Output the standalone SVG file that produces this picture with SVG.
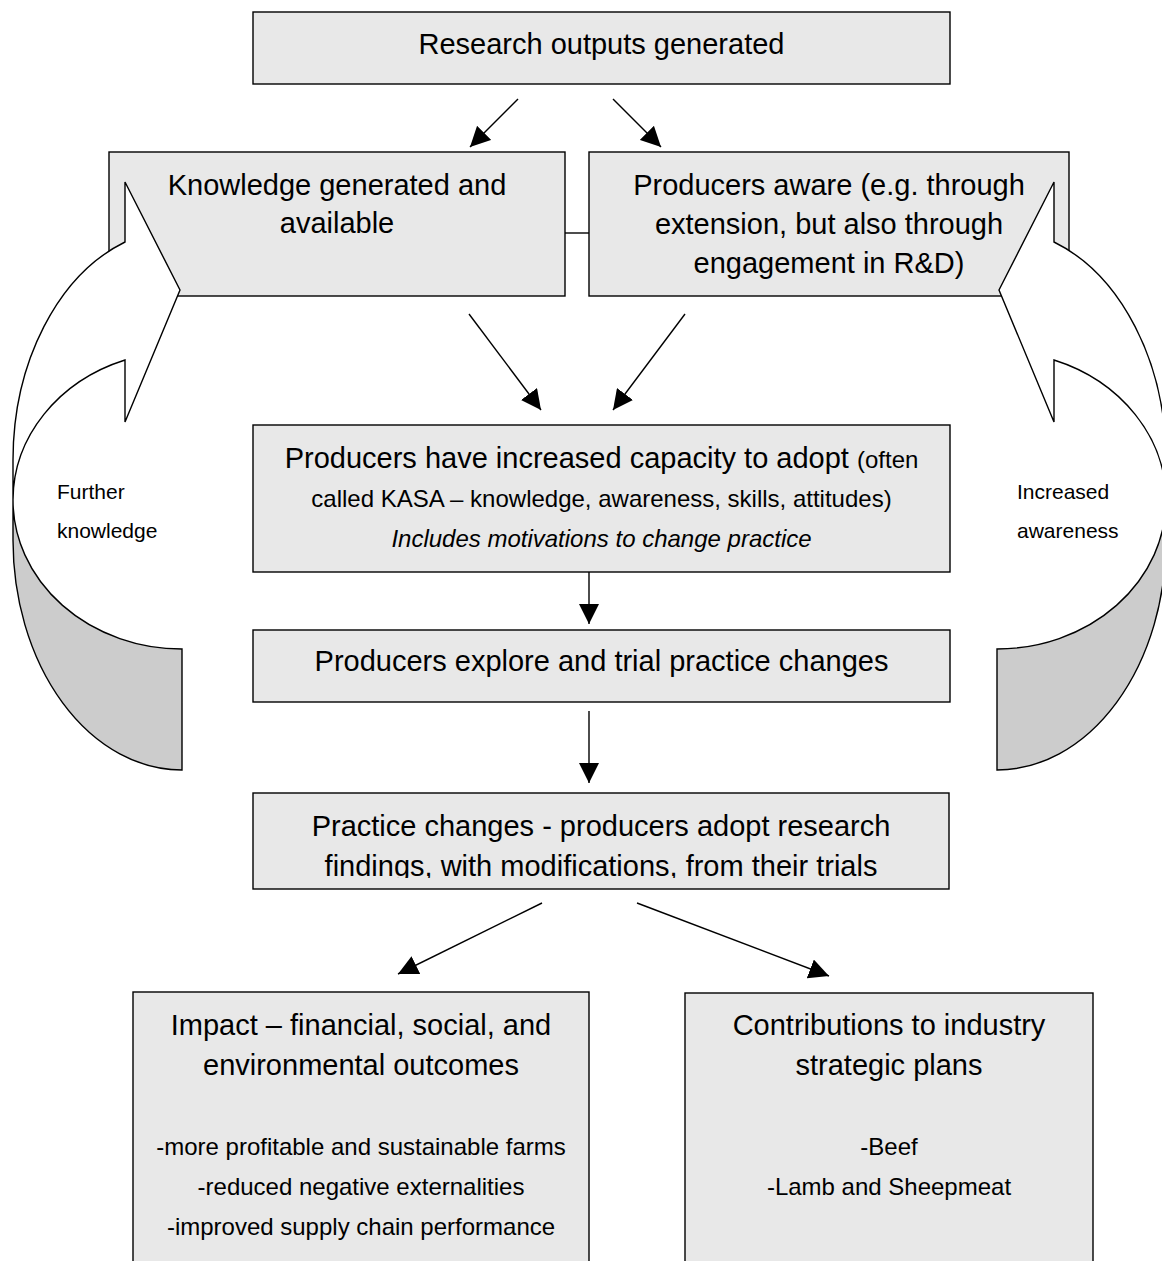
<svg xmlns="http://www.w3.org/2000/svg" width="1162" height="1261" viewBox="0 0 1162 1261">
<style>
.box{fill:#e8e8e8;stroke:#000;stroke-width:1.4}
.t{font-family:"Liberation Sans",Arial,sans-serif;font-size:29px;fill:#000;text-anchor:middle}
.s{font-size:24px}
.lbl{font-family:"Liberation Sans",Arial,sans-serif;font-size:21px;fill:#000}
.conn{stroke:#000;stroke-width:1.4;fill:none}
.front{fill:#fff;stroke:#000;stroke-width:1.4;stroke-linejoin:miter}
.back{fill:#cccccc;stroke:#000;stroke-width:1.4}
</style>
<defs>
<marker id="ah" markerUnits="userSpaceOnUse" markerWidth="20" markerHeight="20" refX="20" refY="10" orient="auto" viewBox="0 0 20 20">
<path d="M0,0 L20,10 L0,20 Z" fill="#000"/>
</marker>
<clipPath id="clipPractice"><rect x="253" y="793" width="696" height="85"/></clipPath>
</defs>
<rect width="1162" height="1261" fill="#fff"/>

<g id="research">
<rect class="box" x="253" y="12" width="697" height="72"/>
<text class="t" x="601.5" y="54">Research outputs generated</text>
</g>

<g id="knowledge">
<rect class="box" x="109" y="152" width="456" height="144"/>
<text class="t" x="337" y="195">Knowledge generated and</text>
<text class="t" x="337" y="233">available</text>
</g>

<g id="aware">
<rect class="box" x="589" y="152" width="480" height="144"/>
<text class="t" x="829" y="195">Producers aware (e.g. through</text>
<text class="t" x="829" y="234">extension, but also through</text>
<text class="t" x="829" y="273">engagement in R&amp;D)</text>
</g>

<g id="capacity">
<rect class="box" x="253" y="425" width="697" height="147"/>
<text class="t" x="601.5" y="468">Producers have increased capacity to adopt <tspan class="s">(often</tspan></text>
<text class="t s" x="601.5" y="507">called KASA – knowledge, awareness, skills, attitudes)</text>
<text class="t s" x="601.5" y="547" font-style="italic">Includes motivations to change practice</text>
</g>

<g id="trial">
<rect class="box" x="253" y="630" width="697" height="72"/>
<text class="t" x="601.5" y="671">Producers explore and trial practice changes</text>
</g>

<g id="practice">
<rect class="box" x="253" y="793" width="696" height="96"/>
<g clip-path="url(#clipPractice)">
<text class="t" x="601" y="836">Practice changes - producers adopt research</text>
<text class="t" x="601" y="876">findings, with modifications, from their trials</text>
</g>
</g>

<g id="impact">
<rect class="box" x="133" y="992" width="456" height="290"/>
<text class="t" x="361" y="1035">Impact – financial, social, and</text>
<text class="t" x="361" y="1075">environmental outcomes</text>
<text class="t s" x="361" y="1155">-more profitable and sustainable farms</text>
<text class="t s" x="361" y="1195">-reduced negative externalities</text>
<text class="t s" x="361" y="1235">-improved supply chain performance</text>
</g>

<g id="contributions">
<rect class="box" x="685" y="993" width="408" height="290"/>
<text class="t" x="889" y="1035">Contributions to industry</text>
<text class="t" x="889" y="1075">strategic plans</text>
<text class="t s" x="889" y="1155">-Beef</text>
<text class="t s" x="889" y="1195">-Lamb and Sheepmeat</text>
</g>

<g id="further-knowledge">
<path class="back" d="M13,540 A169,230 0 0 0 182,770 L182,649 A169,149 0 0 1 13,500 Z"/>
<path class="front" d="M125,242 L125,182 L180,290 L125,422 L125,360 A169,149 0 0 0 13,500 L13,460 A169,232 0 0 1 125,242 Z"/>
<text class="lbl" x="57" y="499">Further</text>
<text class="lbl" x="57" y="538">knowledge</text>
</g>

<g id="increased-awareness">
<g transform="translate(1179,0) scale(-1,1)">
<path class="back" d="M13,540 A169,230 0 0 0 182,770 L182,649 A169,149 0 0 1 13,500 Z"/>
<path class="front" d="M125,242 L125,182 L180,290 L125,422 L125,360 A169,149 0 0 0 13,500 L13,460 A169,232 0 0 1 125,242 Z"/>
</g>
<text class="lbl" x="1017" y="499">Increased</text>
<text class="lbl" x="1017" y="538">awareness</text>
</g>

<g id="connectors">
<line class="conn" x1="518" y1="99" x2="470" y2="147" marker-end="url(#ah)"/>
<line class="conn" x1="613" y1="99" x2="661" y2="147" marker-end="url(#ah)"/>
<line class="conn" x1="565" y1="233" x2="589" y2="233"/>
<line class="conn" x1="469" y1="314" x2="541" y2="410" marker-end="url(#ah)"/>
<line class="conn" x1="685" y1="314" x2="613" y2="410" marker-end="url(#ah)"/>
<line class="conn" x1="589" y1="572" x2="589" y2="624" marker-end="url(#ah)"/>
<line class="conn" x1="589" y1="711" x2="589" y2="783" marker-end="url(#ah)"/>
<line class="conn" x1="542" y1="903" x2="398" y2="974" marker-end="url(#ah)"/>
<line class="conn" x1="637" y1="903" x2="829" y2="976" marker-end="url(#ah)"/>
</g>
</svg>
